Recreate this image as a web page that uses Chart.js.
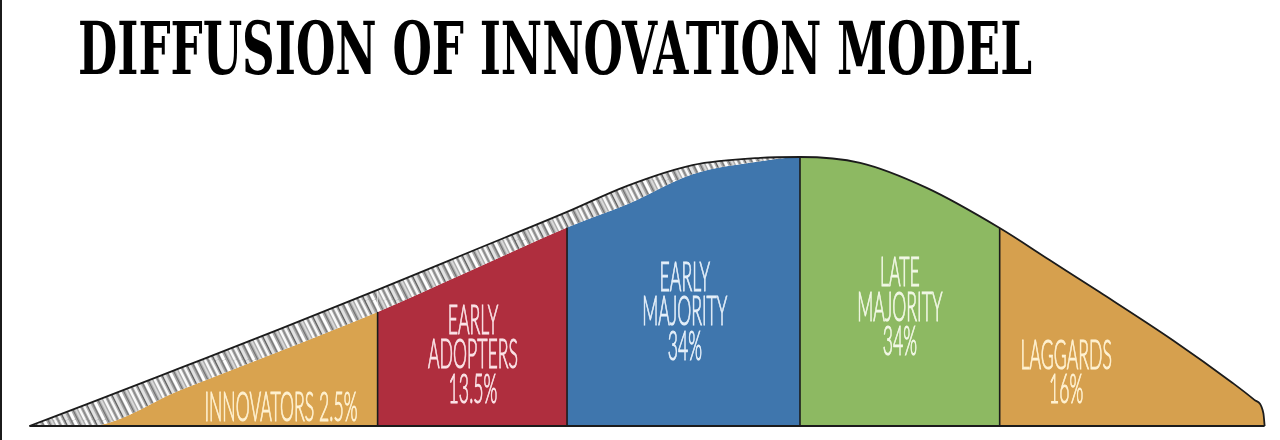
<!DOCTYPE html>
<html>
<head>
<meta charset="utf-8">
<script src="https://cdn.jsdelivr.net/npm/chart.js@4.4.1/dist/chart.umd.min.js"></script>
<style>
  html, body { margin: 0; background: #fff; }
  #wrap { position: relative; width: 1280px; height: 440px; }
</style>
</head>
<body>
<div id="wrap"><canvas id="chart" width="1280" height="440"></canvas></div>
<script>
// Adoption curve: x = time (0-100), y = relative adoption (peak = 100)
const positions = [2.3, 6.9, 14.1, 21.9, 29.5, 36.7, 44.3, 49.0, 54.1, 59.4, 62.5, 67.2, 72.4, 78.1, 82.0, 85.9, 91.6, 96.3, 98.0, 98.7, 98.8];
const curveTop  = [0, 8.3, 21.6, 36.1, 50.6, 64.7, 79.6, 89.3, 97.0, 99.7, 100, 97.8, 88.5, 73.6, 61.7, 49.8, 32.0, 16.0, 9.7, 4.8, 0];
const fillTop   = [0, 0, 13.4, 27.9, 42.4, 57.6, 73.8, 82.4, 93.6, 98.4, 100, 97.8, 88.5, 73.6, 61.7, 49.8, 32.0, 16.0, 9.7, 4.8, 0];

// adopter groups
const groups = ['Innovators', 'Early Adopters', 'Early Majority', 'Late Majority', 'Laggards'];
const shares = [2.5, 13.5, 34, 34, 16];
const boundaries = [29.5, 44.3, 62.5, 78.1];

const title = 'DIFFUSION OF INNOVATION MODEL';

// styling
const fills = ['#D9A34F', '#AF2E3E', '#3F76AD', '#8DB962', '#D6A04E'];
const inks  = ['#FFF2D2', '#FBE4E8', '#E6F0FA', '#F2F8E6', '#FFF2D2'];
const labelSpots = [
  { x: 21.95, y: 6.9, inline: true },
  { x: 36.95, y: 39.4 },
  { x: 53.5,  y: 55.4 },
  { x: 70.3,  y: 56.9 },
  { x: 83.3,  y: 26.4 }
];
const INK = '#1b1b1b';

function groupOf(x) {
  let g = 0;
  boundaries.forEach(b => { if (x >= b) g++; });
  return g;
}

function hatchPattern(ctx) {
  const p = document.createElement('canvas');
  p.width = 30; p.height = 60;
  const g = p.getContext('2d');
  g.fillStyle = '#a9a9a9';
  g.fillRect(0, 0, 30, 60);
  const strokes = [[1, '#f7f7f7', 2.4], [4.5, '#5e5e5e', 1.2], [7, '#e2e2e2', 2.8], [11, '#7a7a7a', 1.4],
                   [14, '#ffffff', 3], [18, '#6a6a6a', 1], [21, '#d8d8d8', 2], [25, '#fafafa', 2.4], [28, '#808080', 1]];
  strokes.forEach(([x, c, w]) => {
    for (const o of [-30, 0, 30]) {
      g.strokeStyle = c; g.lineWidth = w;
      g.beginPath(); g.moveTo(x + o, 60); g.lineTo(x + o - 30, 0); g.stroke();
    }
  });
  return ctx.createPattern(p, 'repeat');
}

function labelLines(i) {
  const name = groups[i].toUpperCase();
  const pct = shares[i] + '%';
  if (labelSpots[i].inline) return [name + ' ' + pct];
  return name.split(' ').concat([pct]);
}

const decor = {
  id: 'decor',
  afterDatasetsDraw(chart) {
    const { ctx, scales: { x, y } } = chart;
    const pts = chart.getDatasetMeta(1).data;
    const base = y.getPixelForValue(0);
    ctx.save();
    ctx.strokeStyle = INK;
    ctx.lineWidth = 1.6;
    boundaries.forEach(b => {
      const pt = pts[positions.indexOf(b)];
      ctx.beginPath(); ctx.moveTo(pt.x, pt.y); ctx.lineTo(pt.x, base); ctx.stroke();
    });
    // baseline
    ctx.lineWidth = 2.2;
    ctx.beginPath();
    ctx.moveTo(x.getPixelForValue(positions[0]), base);
    ctx.lineTo(x.getPixelForValue(positions[positions.length - 1]), base);
    ctx.stroke();

    // group labels
    ctx.font = '300 42px Lato, "DejaVu Sans", sans-serif';
    ctx.textAlign = 'center';
    ctx.textBaseline = 'middle';
    const sx = 90 / ctx.measureText('ADOPTERS').width;
    groups.forEach((g, i) => {
      const spot = labelSpots[i];
      const cx = x.getPixelForValue(spot.x);
      const cy = y.getPixelForValue(spot.y);
      labelLines(i).forEach((line, k) => {
        ctx.save();
        ctx.translate(cx, cy + k * 34.5);
        ctx.scale(sx, 1);
        ctx.fillStyle = inks[i];
        ctx.strokeStyle = inks[i];
        ctx.lineWidth = 1.1;
        ctx.fillText(line, 0, 0);
        ctx.strokeText(line, 0, 0);
        ctx.restore();
      });
    });
    ctx.restore();
  },
  afterDraw(chart) {
    const ctx = chart.ctx;
    ctx.save();
    // frame edge on the left
    ctx.strokeStyle = INK;
    ctx.lineWidth = 2;
    ctx.beginPath(); ctx.moveTo(1, 0); ctx.lineTo(1, 440); ctx.stroke();
    // title
    ctx.fillStyle = '#000';
    ctx.font = 'bold 72px "DejaVu Serif Condensed", "DejaVu Serif", serif';
    ctx.textAlign = 'left';
    ctx.textBaseline = 'alphabetic';
    const w = ctx.measureText(title).width;
    ctx.translate(78, 74);
    ctx.scale(954 / w, 1);
    ctx.fillText(title, 0, 0);
    ctx.restore();
  }
};

const canvas = document.getElementById('chart');
const ctx2d = canvas.getContext('2d');
const toPoints = arr => positions.map((p, i) => ({ x: p, y: arr[i] }));

new Chart(canvas, {
  type: 'line',
  data: {
    datasets: [
      {
        label: 'Adoption',
        data: toPoints(curveTop),
        borderColor: INK,
        borderWidth: 1.8,
        backgroundColor: hatchPattern(ctx2d),
        fill: '+1',
        pointRadius: 0,
        cubicInterpolationMode: 'monotone',
        clip: false
      },
      {
        label: 'Groups',
        data: toPoints(fillTop),
        borderWidth: 0,
        borderColor: 'rgba(0,0,0,0)',
        backgroundColor: fills[0],
        fill: 'origin',
        pointRadius: 0,
        cubicInterpolationMode: 'monotone',
        clip: false,
        segment: {
          backgroundColor: c => fills[groupOf(positions[c.p0DataIndex])]
        }
      }
    ]
  },
  options: {
    responsive: false,
    animation: false,
    layout: { padding: { top: 157, bottom: 14, left: 0, right: 0 } },
    plugins: { legend: { display: false }, tooltip: { enabled: false } },
    scales: {
      x: { type: 'linear', min: 0, max: 100, display: false },
      y: { min: 0, max: 100, display: false }
    }
  },
  plugins: [decor]
});
</script>
</body>
</html>
